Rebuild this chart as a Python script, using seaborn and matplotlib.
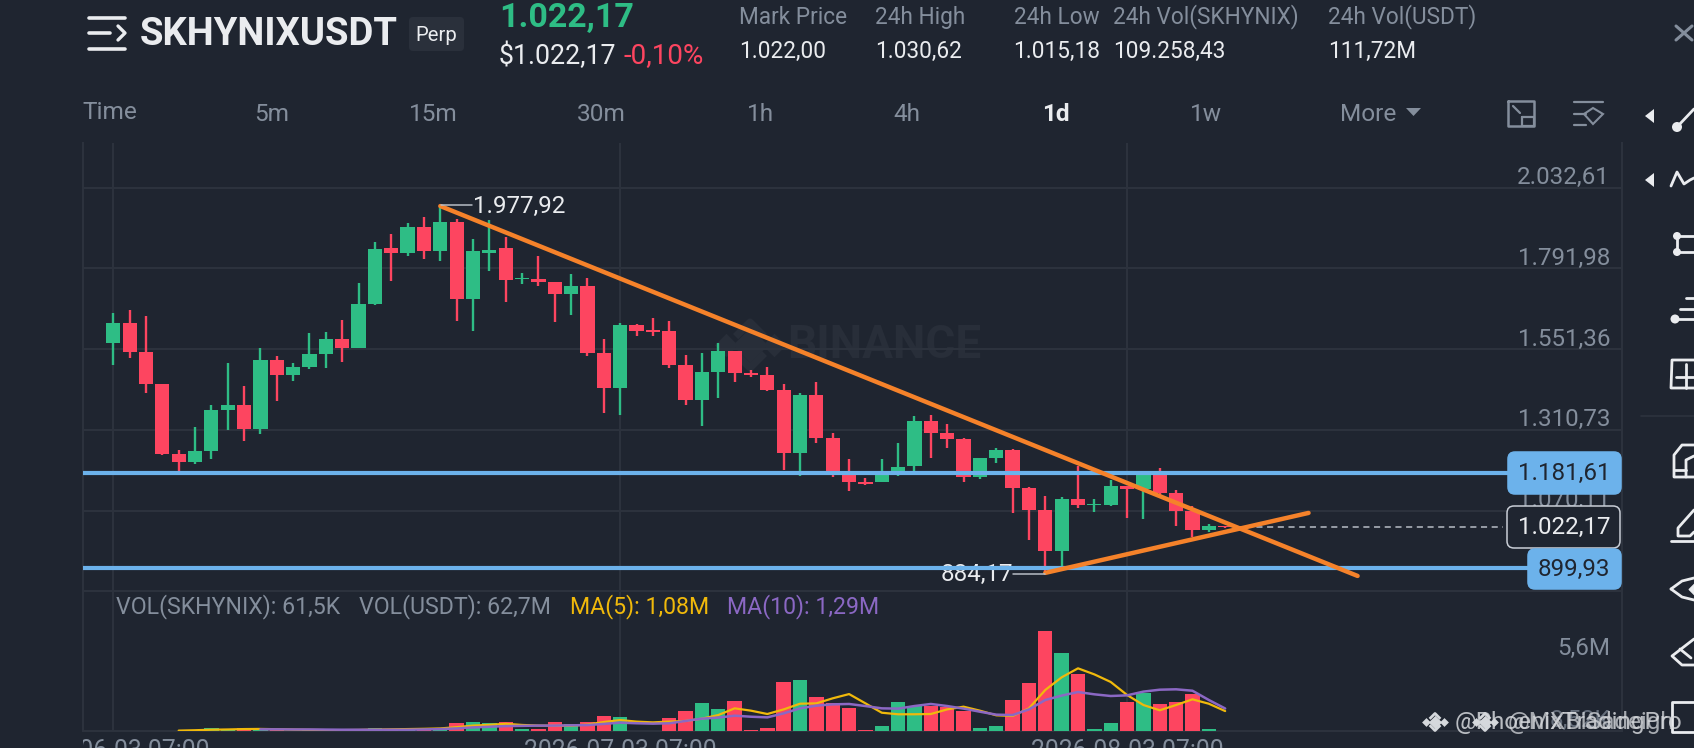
import numpy as np
import pandas as pd
import seaborn as sns
import matplotlib
matplotlib.use("Agg")
import matplotlib.pyplot as plt
from matplotlib.patches import FancyBboxPatch, Circle, Polygon
from matplotlib.transforms import Bbox

# candles
opens = [1569.5,1628.2,1543.7,1446.3,1238.5,1213.7,1247.5,1369.7,1384.6,1313,1518.8,1475.1,1498.9,1537.7,1582.4,1553.6,1686.8,1851.8,1836.9,1915.4,1844.9,
         1930.3,1701.7,1839,1851.8,1759.4,1759.4,1750.4,1714.6,1738.5,1539.7,1436.3,1622.2,1607.3,1604.3,1504.9,1399.5,1483,1546.6,1480,1475,1429.4,1240.5,1413.5,1286.2,1185.8,
         1156,1155,1174.9,1202.8,1336,1300,1282.3,1169,1225.6,1249.5,1138.1,1071.5,950.3,1103.4,1086.5,1086.5,1143.1,1133.2,1186,1123.2,1067.6,1012.9,1024]
closes = [1628.2,1543.7,1446.3,1238.5,1213.7,1247.5,1368.7,1384.6,1313,1519.8,1475.1,1498.9,1537.7,1582.4,1553.6,1686.8,1850.8,1836.9,1915.4,1844.9,1931.3,
          1701.7,1844.9,1848,1758.4,1764.3,1750.4,1714.6,1738.5,1539.7,1436.3,1622.2,1606.3,1601.3,1504.9,1399.5,1482,1546.6,1480,1475,1429.4,1240.5,1413.5,1287.2,1185.8,1156,
          1150,1188.8,1200.8,1336,1300,1283.3,1169,1225.6,1250.5,1138.1,1071.5,950.3,1103.4,1085.5,1090.4,1143.1,1133.2,1186,1123.2,1067.6,1012.9,1022.8,1022.17]
highs = [1658,1666.9,1650,1447,1250.5,1320,1384.6,1508.9,1441.3,1553.6,1529.8,1508.9,1600.3,1603.3,1638.1,1747.4,1870.7,1894.6,1928.3,1945.2,1977.92,
         1939.3,1878.6,1936.3,1885,1777.3,1829.9,1752.4,1776.3,1762.4,1582.4,1628.2,1625.2,1645,1635.1,1533.7,1540.7,1570.5,1547,1488,1499,1448.3,1421.4,1454.2,1300.1,1222.6,
         1166,1222.6,1271.3,1351.8,1355.8,1327,1285,1227,1257.4,1253.4,1140,1114.3,1109.3,1202.8,1103.4,1161,1143.1,1187,1195.8,1130.2,1083.5,1028.8,1025]
lows = [1503.9,1523.8,1419.4,1235,1185.9,1208.7,1222.6,1310,1278.3,1298.2,1397.6,1457.2,1492,1494,1513.8,1553.6,1683.8,1755.4,1830,1820,1813,
        1636.1,1606.3,1785.2,1691.8,1745.4,1740.5,1631.1,1654,1531.8,1360.8,1354.8,1590.4,1590.4,1495.9,1383.6,1321,1404.5,1453.2,1467.1,1427.4,1190.8,1172.9,1272.3,1170.9,1129.2,
        1146,1154,1172.9,1188.8,1225.6,1257.4,1156,1165,1210.7,1061.6,982,884.17,902.5,1077.5,1064.6,1085,1047.7,1044.7,1116,1024.8,990,1006.9,1017]

# volume in millions
volumes = [.01,.01,.01,.01,.02,.05,.23,.15,.2,.12,.05,.03,.04,.03,.1,.15,.2,.15,.2,.2,.26,
           .65,.72,.62,.72,.18,.15,.67,.52,.70,1.19,1.09,.02,.02,1.01,1.55,2.18,1.71,2.36,.05,.23,3.81,3.96,2.62,2.20,1.81,
           .05,.39,2.28,1.92,1.92,1.89,1.53,.26,.36,2.43,3.70,7.74,6.06,4.40,.18,.60,2.28,2.93,2.10,2.25,2.90,.18,.03]
ma5 = [None,None,None,None,.03,.06,.1,.12,.15,.16,.14,.11,.09,.07,.07,.08,.11,.13,.15,.17,.2,
       .3,.42,.48,.56,.47,.42,.41,.41,.5,.7,.85,.73,.67,.73,.78,.96,1.24,1.76,1.58,1.32,1.68,2.12,2.15,2.54,2.87,
       2.15,1.42,1.30,1.30,1.32,1.68,1.89,1.58,1.22,1.17,1.76,3.19,4.17,4.87,4.40,3.81,2.80,2.02,1.61,2.02,2.46,2.12,1.55]
ma10 = [None,None,None,None,None,None,None,None,None,.13,.13,.12,.12,.11,.1,.1,.1,.1,.1,.12,.15,
        .2,.28,.33,.38,.40,.42,.42,.44,.46,.55,.65,.60,.57,.60,.78,.96,1.04,1.19,1.11,1.06,1.37,1.76,1.97,2.07,2.10,
        1.94,1.76,1.74,1.94,2.10,1.94,1.74,1.50,1.27,1.24,1.68,2.41,2.75,3.03,2.85,2.72,2.77,3.06,3.21,3.24,3.13,2.41,1.75]

price_ticks = [2032.61,1791.98,1551.36,1310.73,1070.11,829.49]
price_labels = ["2.032,61","1.791,98","1.551,36","1.310,73","1.070,11"]
date_pos = [0,31,62]
date_labels = ["2026-06-03 07:00","2026-07-03 07:00","2026-08-03 07:00"]
level_hi, level_lo, last_price = 1181.61, 899.93, 1022.17
trend_down_x, trend_down_y = [20,76.1], [1977.92,875]
trend_up_x, trend_up_y = [57,73.1], [884.17,1062.9]

BG = "#1f2530"
GRID = "#2d333e"
GREEN = "#2ebd85"
RED = "#fd4560"
BLUE = "#6cb2eb"
ORANGE = "#f5822a"
GREY = "#848e9c"
WHITE = "#eaecef"
YELLOW = "#f0b90b"
PURPLE = "#8b68c4"
MARK = "#282e39"
AXIS_FS = 17.4

sns.set_theme(style="darkgrid", rc={"axes.facecolor":"none","figure.facecolor":BG,"grid.color":GRID,"grid.linewidth":1.4,
                                    "axes.edgecolor":GRID,"axes.linewidth":1.4})
plt.rcParams["font.family"] = ["Roboto","DejaVu Sans"]

W, H = 1694, 748
fig = plt.figure(figsize=(W/100,H/100), dpi=100)

def box(l,t,r,b):
    return [l/W, 1-b/H, (r-l)/W, (b-t)/H]

# faint watermark sits under the chart, everything else in pixel space sits over it
under = fig.add_axes([0,0,1,1], zorder=-1)
under.set_xlim(0,W); under.set_ylim(H,0); under.axis("off")
ax = fig.add_axes(box(82.7,143,1622,591.5))
ax_vol = fig.add_axes(box(82.7,591.5,1622,731))
ui = fig.add_axes([0,0,1,1], zorder=5)
ui.set_xlim(0,W); ui.set_ylim(H,0); ui.axis("off")

# candles
n = len(opens)
idx = np.arange(n)
o, c, h, l = map(np.array, (opens,closes,highs,lows))
colors = np.where(c >= o, GREEN, RED)
ax.vlines(idx, l, h, colors=colors, lw=1.7, zorder=3)
ax.bar(idx, np.abs(c-o), bottom=np.minimum(o,c), width=0.87, color=colors, linewidth=0, zorder=3)

ax.set_xlim(-1.87,92.27)
ax.set_ylim(828.6,2165.9)
ax.set_xticks(date_pos); ax.set_xticklabels([])
ax.set_yticks(price_ticks); ax.set_yticklabels([])
ax.tick_params(length=0)
for s in ["top","bottom"]:
    ax.spines[s].set_visible(False)

def binance_logo(a, cx, cy, s, color, alpha=1, z=1):
    a.scatter([cx],[cy],marker="D",s=(s*.75)**2,color=color,alpha=alpha,zorder=z,linewidths=0)
    for dx in (-s,s):
        a.scatter([cx+dx],[cy],marker="D",s=(s*.5)**2,color=color,alpha=alpha,zorder=z,linewidths=0)
    for sign in (-1,1):
        a.plot([cx-s*.6,cx,cx+s*.6],[cy+sign*s*.35,cy+sign*s*.95,cy+sign*s*.35],color=color,lw=s*.22,alpha=alpha,zorder=z,solid_capstyle="butt")

binance_logo(under,750,345,24,MARK)
under.text(787,345,"BINANCE",color=MARK,fontsize=33,fontweight="bold",va="center")

# levels and trend lines
ax.hlines([level_hi,level_lo],-1.87,87,colors=BLUE,lw=3,zorder=4)
ax.hlines(last_price,68.6,85,colors="#b7bdc6",lw=1.1,linestyles=(0,(4,3)),zorder=4)
ax.plot(trend_down_x,trend_down_y,color=ORANGE,lw=3.2,zorder=5,solid_capstyle="round")
ax.plot(trend_up_x,trend_up_y,color=ORANGE,lw=3.2,zorder=5,solid_capstyle="round")

# volume panel
vol_df = pd.DataFrame({"i":idx,"vol":volumes,"side":np.where(c>=o,"up","down")})
sns.barplot(data=vol_df,x="i",y="vol",hue="side",palette={"up":GREEN,"down":RED},native_scale=True,dodge=False,
            width=0.88,saturation=1,legend=False,linewidth=0,ax=ax_vol,zorder=3)
ma_df = pd.DataFrame({"i":idx,"ma5":ma5,"ma10":ma10}).astype(float)
sns.lineplot(data=ma_df,x="i",y="ma5",color=YELLOW,lw=1.6,errorbar=None,ax=ax_vol,zorder=4)
sns.lineplot(data=ma_df,x="i",y="ma10",color=PURPLE,lw=1.8,errorbar=None,ax=ax_vol,zorder=4)
ax_vol.set_xlim(-1.87,92.27)
ax_vol.set_ylim(0,10.84)
ax_vol.set_yticks([]); ax_vol.set_xlabel(""); ax_vol.set_ylabel("")
ax_vol.set_xticks(date_pos); ax_vol.set_xticklabels(date_labels,color=GREY,fontsize=17.8)
ax_vol.tick_params(length=0,pad=5.5)
ax_vol.spines["top"].set_visible(False)
clip = Bbox([[82.7,0],[1622,100]])
for t in ax_vol.get_xticklabels():
    t.set_clip_box(clip); t.set_clip_on(True)

# price axis labels
for p, lab in zip(price_ticks, price_labels):
    ypx = ax.transData.transform((0,p))[1]
    ui.text(1610,H-ypx-10,lab,color=GREY,fontsize=AXIS_FS,ha="right",va="center",zorder=2)
ui.text(1610,648,"5,6M",color=GREY,fontsize=AXIS_FS,ha="right",va="center",zorder=2)
ui.text(1610,720,"8,52K",color=GREY,fontsize=AXIS_FS,ha="right",va="center",zorder=2,alpha=.7)

# boxes on the right
def tag(x0,y0,x1,y1,txt,fc,ec,tc):
    ui.add_patch(FancyBboxPatch((x0+7,y0+7),x1-x0-14,y1-y0-14,boxstyle="round,pad=7,rounding_size=7",fc=fc,ec=ec,lw=1.1,zorder=6))
    ui.text(1610,(y0+y1)/2+.5,txt,color=tc,fontsize=AXIS_FS,ha="right",va="center",zorder=7)
tag(1508,452,1621,494,"1.181,61",BLUE,BLUE,"#1f2530")
tag(1507,506,1620,548,"1.022,17",BG,"#c9ced6",WHITE)
tag(1528,549,1621,589,"899,93",BLUE,BLUE,"#1f2530")

# extreme labels
ui.plot([441,472],[205,205],color="#b7bdc6",lw=1.1,zorder=3)
ui.text(473,206,"1.977,92",color=WHITE,fontsize=AXIS_FS,va="center",zorder=3)
ui.plot([1013,1045],[574,574],color="#b7bdc6",lw=1.1,zorder=3)
under.text(1013,574,"884,17",color=WHITE,fontsize=AXIS_FS,va="center",ha="right")

# legend row
for x,txt,col in [(115.6,"VOL(SKHYNIX): 61,5K",GREY),(358.7,"VOL(USDT): 62,7M",GREY),(570.5,"MA(5): 1,08M",YELLOW),(727,"MA(10): 1,29M",PURPLE)]:
    ui.text(x,607,txt,color=col,fontsize=16.7,va="center")

# header
ui.text(140,34,"SKHYNIXUSDT",color=WHITE,fontsize=27.5,fontweight="bold",va="center")
ui.add_patch(FancyBboxPatch((413,21),47,26,boxstyle="round,pad=4,rounding_size=4",fc="#2a303b",ec="none"))
ui.text(436.5,35,"Perp",color=WHITE,fontsize=14.6,ha="center",va="center")
ui.text(499,18,"1.022,17",color=GREEN,fontsize=24.5,fontweight="bold",va="center")
ui.text(499,56,"$1.022,17",color=WHITE,fontsize=19.3,va="center")
ui.text(623.5,56,"-0,10%",color=RED,fontsize=20,va="center")
for x,a,b in [(739,"Mark Price","1.022,00"),(875,"24h High","1.030,62"),(1013.5,"24h Low","1.015,18"),
              (1112.8,"24h Vol(SKHYNIX)","109.258,43"),(1327.8,"24h Vol(USDT)","111,72M")]:
    ui.text(x,17,a,color=GREY,fontsize=16.3,va="center")
    ui.text(x,51,b,color=WHITE,fontsize=16.3,va="center")

# timeframe row
ui.text(82,112,"Time",color=GREY,fontsize=17.6,va="center")
for x,lab in [(272,"5m"),(433,"15m"),(601.5,"30m"),(760.6,"1h"),(906.5,"4h"),(1205.7,"1w"),(1368,"More")]:
    ui.text(x,114.5,lab,color=GREY,fontsize=17.6,ha="center",va="center")
ui.text(1055.5,114.5,"1d",color=WHITE,fontsize=17.6,fontweight="bold",ha="center",va="center")
ui.add_patch(Polygon([(1406,108),(1421,108),(1413.5,116)],fc=GREY,ec="none"))

# icons, plain strokes
def stroke(xs,ys,col=WHITE,lw=2):
    ui.plot(xs,ys,color=col,lw=lw,solid_capstyle="round",zorder=8)

stroke([89,125],[18,18],lw=2.6); stroke([89,110],[33,33],lw=2.6); stroke([118,125,118],[26,33,40],lw=2.4); stroke([89,125],[49,49],lw=2.6)
stroke([1676,1692],[26,40],GREY,2.2); stroke([1676,1692],[40,26],GREY,2.2)
stroke([1508,1534,1534,1508,1508],[101,101,126,126,101],GREY,1.8)
stroke([1522,1534,1534,1522,1522],[117,117,126,126,117],GREY,1.6); stroke([1513,1520],[106,113],GREY,1.6)
stroke([1574,1603],[102,102],GREY,1.6); stroke([1574,1586],[114,114],GREY,1.6); stroke([1574,1586],[125,125],GREY,1.6)
ui.add_patch(Polygon([(1593,108),(1603,114),(1593,124),(1584,114)],fc="none",ec=GREY,lw=1.5))
for yy in [116,180]:
    ui.add_patch(Polygon([(1654,yy-7),(1654,yy+7),(1645,yy)],fc=WHITE,ec="none",zorder=8))
ui.add_patch(Circle((1677,127),5,fc=WHITE,ec="none",zorder=8)); stroke([1677,1694],[127,109])
stroke([1671,1677,1684,1690,1694],[186,172,184,180,178])
ui.add_patch(Circle((1677,236),4,fc=WHITE,ec="none",zorder=8)); ui.add_patch(Circle((1677,252),4,fc=WHITE,ec="none",zorder=8))
stroke([1677,1677],[236,252]); stroke([1677,1694],[236,236]); stroke([1677,1694],[252,252])
ui.add_patch(Circle((1675,319),4.5,fc=WHITE,ec="none",zorder=8))
stroke([1686,1694],[298,298]); stroke([1680,1694],[309,309]); stroke([1675,1694],[319,319])
stroke([1694,1672,1671,1694],[360,360,388,388]); stroke([1676,1694],[377,377]); stroke([1686,1686],[364,388])
stroke([1641,1694],[416,416],GRID,1.2)
stroke([1694,1682,1674,1674,1694],[445,445,455,477,477]); stroke([1674,1686],[470,470]); stroke([1686,1686,1694],[477,460,456])
stroke([1694,1678,1678,1690,1694],[510,528,536,536,532]); stroke([1671,1694],[541,541])
stroke([1671,1682,1694],[589,581,578]); stroke([1671,1682,1694],[589,597,600])
ui.scatter([1696],[589],marker="D",s=55,color=WHITE,zorder=8)
stroke([1694,1672,1682,1694],[639,656,665,665]); stroke([1680,1691],[649,658])
stroke([1694,1672,1672,1694],[702,702,732,732])

# site watermarks
binance_logo(ui,1435,722,9,"#d5d8dc",z=9)
binance_logo(ui,1485,722,9,"#d5d8dc",z=9)
ui.text(1455,722,"@PhoenixTradingPro",color="#d5d8dc",fontsize=17.5,va="center",zorder=9,alpha=.85)
ui.text(1508,722,"@MXBISadeigh",color="#d5d8dc",fontsize=17.5,va="center",zorder=9,alpha=.75)

fig.savefig("out.png",dpi=100)
